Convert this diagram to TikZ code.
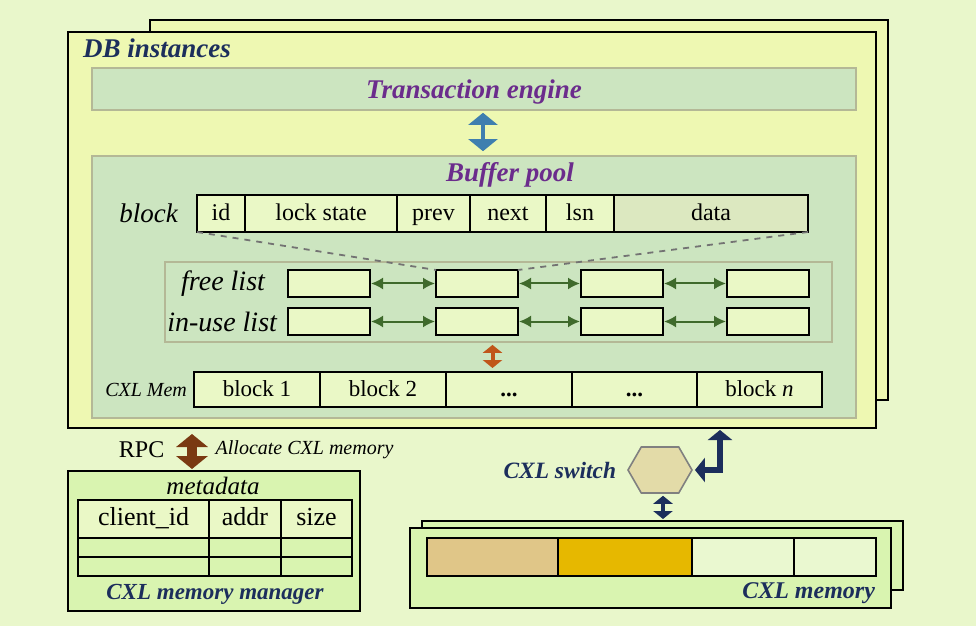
\documentclass[tikz,border=0pt]{standalone}
\usepackage{fontspec}
\setmainfont{Liberation Serif}
\usetikzlibrary{positioning,arrows.meta,shapes.symbols}

\definecolor{bggreen}{HTML}{E9F7CB}
\definecolor{dbyellow}{HTML}{EEF8B2}
\definecolor{sage}{HTML}{CCE5C0}
\definecolor{sageline}{HTML}{B4B896}
\definecolor{cellgreen}{HTML}{EAF8C6}
\definecolor{datagreen}{HTML}{DCE8C0}
\definecolor{mgrgreen}{HTML}{D9F4B0}
\definecolor{titlepurple}{HTML}{6B2C8C}
\definecolor{navy}{HTML}{1C2E5C}
\definecolor{linkgreen}{HTML}{3F6A2C}
\definecolor{steelblue}{HTML}{3F7FAF}
\definecolor{rustorange}{HTML}{C0561A}
\definecolor{rpcbrown}{HTML}{7A3A12}
\definecolor{hexfill}{HTML}{E3DBA8}
\definecolor{tan}{HTML}{E0C688}
\definecolor{gold}{HTML}{E6B800}
\definecolor{pale}{HTML}{EAF8D0}

\begin{document}
\begin{tikzpicture}[x=0.5pt,y=-0.5pt,
  box/.style={draw,line width=0.7pt,inner sep=0pt,outer sep=0pt},
  panel/.style={draw=sageline,line width=0.8pt,fill=sage,inner sep=0pt},
  cell/.style={box,fill=cellgreen,anchor=west,font=\fontsize{12}{14}\selectfont,text height=1.5ex,text depth=0ex},
  listbox/.style={box,fill=cellgreen,anchor=west,minimum width=41pt,minimum height=13.5pt},
  title/.style={font=\fontsize{13.5}{16}\selectfont\bfseries\itshape},
  label/.style={font=\fontsize{13.5}{16}\selectfont\itshape},
  linkarrow/.style={{Latex[length=6pt,width=6pt]}-{Latex[length=6pt,width=6pt]},line width=1pt,draw=linkgreen,shorten <=0.5pt,shorten >=0.5pt},
  fatarrow/.style={{Triangle[length=#1,width=2.4*#1]}-{Triangle[length=#1,width=2.4*#1]}}
]
\fill[bggreen] (0,0) rectangle (976,626);
\useasboundingbox (0,0) rectangle (976,626);

%----------------------------
% DB instances
%----------------------------
\node[box,fill=dbyellow,minimum width=369pt,minimum height=190pt] (dbback) at (519,210) {};
\node[box,fill=dbyellow,minimum width=404pt,minimum height=198pt] (db) at (472,230) {};
\node[title,text=navy,anchor=west] (dbtitle) at (76,48) {DB instances};

% Transaction engine and buffer pool
\node[panel,minimum width=382pt,minimum height=21pt] (txn) at (474,89) {};
\node[title,text=titlepurple,anchor=base] at (474,99) {Transaction engine};
\node[panel,minimum width=382pt,minimum height=131pt] (pool) at (474,287) {};
\node[title,text=titlepurple,anchor=base] (pooltitle) at (510,182) {Buffer pool};
\draw[fatarrow=6pt,line width=2pt,steelblue,shorten <=1pt,shorten >=2pt]
  ([xshift=4.5pt]txn.south) -- ([xshift=4.5pt]pool.north);

%----------------------------
% Block layout
%----------------------------
\node[cell,minimum width=24pt,minimum height=18.5pt] (bid) at (197,213.5) {id};
\node[cell,minimum width=76pt,minimum height=18.5pt,right=0pt of bid] (block) {lock state};
\node[cell,minimum width=36.5pt,minimum height=18.5pt,right=0pt of block] (bprev) {prev};
\node[cell,minimum width=38pt,minimum height=18.5pt,right=0pt of bprev] (bnext) {next};
\node[cell,minimum width=34pt,minimum height=18.5pt,right=0pt of bnext] (blsn) {lsn};
\node[cell,fill=datagreen,minimum width=97pt,minimum height=18.5pt,right=0pt of blsn] (bdata) {data};
\node[label,left=6pt of bid] (blocklabel) {block};

%----------------------------
% Free list and in-use list
%----------------------------
\node[draw=sageline,line width=0.9pt,minimum width=333.5pt,minimum height=40pt] (lists) at (498.5,302) {};
\foreach \i/\x in {1/288,2/436,3/581,4/727}{
  \node[listbox] (free\i) at (\x,283.5) {};
  \node[listbox] (used\i) at (\x,321.5) {};
}
\foreach \i/\j in {1/2,2/3,3/4}{
  \draw[linkarrow] (free\i.east) -- (free\j.west);
  \draw[linkarrow] (used\i.east) -- (used\j.west);
}
\node[label,font=\fontsize{14}{16}\selectfont\itshape,left=8pt of free1] (freelabel) {free list};
\node[label,font=\fontsize{14}{16}\selectfont\itshape,left=2pt of used1] (usedlabel) {in-use list};

% block -> list element (dashed)
\draw[dashed,gray!90!black,line width=0.9pt] (bid.south west) -- (free2.north west);
\draw[dashed,gray!90!black,line width=0.9pt] (bdata.south east) -- (free2.north east);

%----------------------------
% CXL Mem row
%----------------------------
\node[cell,font=\fontsize{11.5}{14}\selectfont,minimum width=63pt,minimum height=17.5pt] (mem1) at (194,389.5) {block 1};
\node[cell,font=\fontsize{11.5}{14}\selectfont,minimum width=63pt,minimum height=17.5pt,right=0pt of mem1] (mem2) {block 2};
\node[cell,font=\fontsize{11.5}{14}\selectfont\bfseries,minimum width=63pt,minimum height=17.5pt,right=0pt of mem2] (mem3) {...};
\node[cell,font=\fontsize{11.5}{14}\selectfont\bfseries,minimum width=62.5pt,minimum height=17.5pt,right=0pt of mem3] (mem4) {...};
\node[cell,font=\fontsize{11.5}{14}\selectfont,minimum width=62.5pt,minimum height=17.5pt,right=0pt of mem4] (mem5) {block \textit{n}};
\node[label,font=\fontsize{10}{12}\selectfont\itshape,left=0pt of mem1] (memlabel) {CXL Mem};
\draw[fatarrow=4pt,line width=2pt,rustorange,shorten <=1pt,shorten >=2pt]
  ([xshift=-3pt]lists.south) -- ([xshift=-3pt]lists.south |- mem1.north);

%----------------------------
% CXL memory manager
%----------------------------
\node[box,fill=mgrgreen,minimum width=146pt,minimum height=70pt] (mgr) at (214,541) {};
\node[label,font=\fontsize{12.5}{15}\selectfont\itshape,anchor=base] (metalabel) at (213,494) {metadata};
\node[cell,font=\fontsize{13}{15}\selectfont,minimum width=65.5pt,minimum height=19pt] (tclient) at (78,519) {client\_id};
\node[cell,font=\fontsize{13}{15}\selectfont,minimum width=36pt,minimum height=19pt,right=0pt of tclient] (taddr) {addr};
\node[cell,font=\fontsize{13}{15}\selectfont,minimum width=35.5pt,minimum height=19pt,right=0pt of taddr] (tsize) {size};
\foreach \r/\y in {1/547.5,2/566.5}{
  \node[box,anchor=west,minimum width=65.5pt,minimum height=9.5pt] (row\r a) at (78,\y) {};
  \node[box,anchor=west,minimum width=36pt,minimum height=9.5pt,right=0pt of row\r a] (row\r b) {};
  \node[box,anchor=west,minimum width=35.5pt,minimum height=9.5pt,right=0pt of row\r b] (row\r c) {};
}
\node[title,font=\fontsize{11.5}{14}\selectfont\bfseries\itshape,text=navy] (mgrtitle) at (215,594) {CXL memory manager};

% RPC arrow
\draw[fatarrow=6.5pt,line width=5pt,rpcbrown,shorten <=1pt,shorten >=3pt]
  ([xshift=-11pt]mgr.north) -- ([xshift=-11pt]mgr.north |- db.south)
  node[midway,left,xshift=-8pt,text=black,font=\fontsize{12}{14}\selectfont] {RPC}
  node[midway,right,xshift=6pt,text=black,font=\fontsize{10}{12}\selectfont\itshape] {Allocate CXL memory};

%----------------------------
% CXL switch and CXL memory
%----------------------------
\node[signal,signal to=east and west,signal pointer angle=120,draw=gray,line width=0.8pt,fill=hexfill,
  minimum width=32pt,minimum height=23pt,inner sep=0pt] (sw) at (660,470) {};
\node[title,font=\fontsize{11.7}{14}\selectfont\bfseries\itshape,text=navy,left=2pt of sw] (swlabel) {CXL switch};
\coordinate (dbport) at (720,430);
\draw[fatarrow=5pt,line width=3pt,navy,shorten <=1pt] (sw.east) -| (dbport);

\node[box,fill=mgrgreen,minimum width=240.5pt,minimum height=34.5pt] (cxlback) at (662.5,555.5) {};
\node[box,fill=mgrgreen,minimum width=240.5pt,minimum height=40pt] (cxl) at (650.5,568) {};
\draw[fatarrow=4pt,line width=2pt,navy,shorten <=1pt,shorten >=1pt]
  ([xshift=1.5pt]sw.south) -- ([xshift=1.5pt]sw.south |- cxlback.north);
\node[box,fill=tan,minimum width=65.5pt,minimum height=19pt,anchor=west] (seg1) at (427,557) {};
\node[box,fill=gold,minimum width=67pt,minimum height=19pt,right=0pt of seg1] (seg2) {};
\node[box,fill=pale,minimum width=51pt,minimum height=19pt,right=0pt of seg2] (seg3) {};
\node[box,fill=pale,minimum width=41pt,minimum height=19pt,right=0pt of seg3] (seg4) {};
\node[title,font=\fontsize{12}{14}\selectfont\bfseries\itshape,text=navy,anchor=east] (cxltitle) at (882,593) {CXL memory};

\end{tikzpicture}
\end{document}
